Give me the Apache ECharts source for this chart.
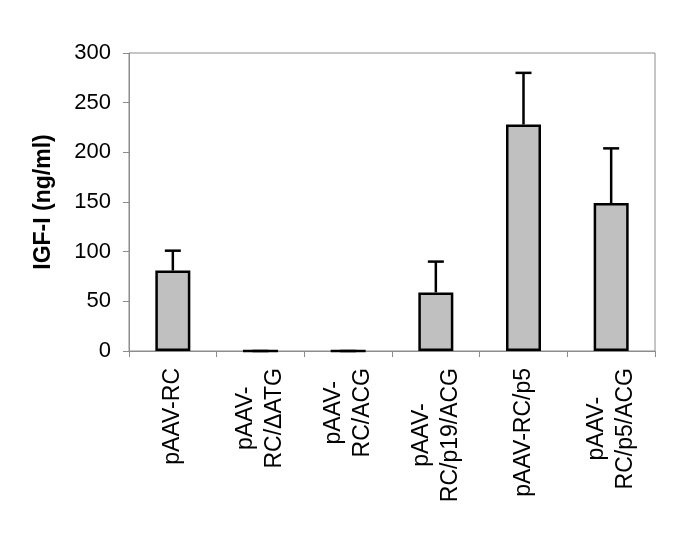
<!DOCTYPE html>
<html>
<head>
<meta charset="utf-8">
<script src="https://cdn.jsdelivr.net/npm/echarts@6/dist/echarts.min.js"></script>
<style>
  html, body { margin: 0; padding: 0; background: #fff; }
  #chart { width: 685px; height: 544px; }
</style>
</head>
<body>
<div id="chart"></div>
<script>
// constructs on the x axis
const categories = ['pAAV-RC', 'pAAV-\nRC/ΔATG', 'pAAV-\nRC/ACG', 'pAAV-\nRC/p19/ACG', 'pAAV-RC/p5', 'pAAV-\nRC/p5/ACG']
// IGF-I mean and error (ng/ml)
const means = [81, 0, 0, 59, 228, 149]
const errors = [20, 0, 0, 31, 52, 55]
const yTicks = { min: 0, max: 300, interval: 50 }

const font = 'Liberation Sans, Arial, sans-serif'
const chart = echarts.init(document.getElementById('chart'))

const errData = means.map((m, i) => [i, m, m + errors[i]])

const option = {
  animation: false,
  grid: {
    left: 129, top: 53, right: 30, bottom: 193,
    show: true, borderColor: '#8c8c8c', borderWidth: 1
  },
  xAxis: {
    type: 'category',
    data: categories,
    axisLine: { lineStyle: { color: '#8c8c8c', width: 1 } },
    axisTick: { show: true, length: 6, lineStyle: { color: '#8c8c8c' } },
    axisLabel: {
      interval: 0,
      rotate: 90,
      margin: 17,
      fontFamily: font,
      fontSize: 23,
      color: '#000',
      lineHeight: 29,
      formatter: v => v.split('\n').map(s => '{c|' + s + '}').join('\n'),
      rich: { c: { align: 'center', fontFamily: font, fontSize: 23, color: '#000', lineHeight: 29 } }
    }
  },
  yAxis: {
    type: 'value',
    min: yTicks.min, max: yTicks.max, interval: yTicks.interval,
    name: 'IGF-I (ng/ml)',
    nameLocation: 'middle',
    nameGap: 74,
    nameTextStyle: { fontFamily: font, fontSize: 23, fontWeight: 'bold', color: '#000' },
    splitLine: { show: false },
    axisLine: { show: true, lineStyle: { color: '#8c8c8c', width: 1 } },
    axisTick: { show: true, length: 6, lineStyle: { color: '#8c8c8c' } },
    axisLabel: { margin: 18, fontFamily: font, fontSize: 22, color: '#000' }
  },
  series: [
    {
      type: 'bar',
      data: means,
      barWidth: 35,
      itemStyle: { color: '#c0c0c0', borderColor: '#000', borderWidth: 2.5 }
    },
    {
      type: 'custom',
      data: errData,
      z: 10,
      renderItem: (params, api) => {
        const base = api.coord([api.value(0), api.value(1)])
        const top = api.coord([api.value(0), api.value(2)])
        const style = { stroke: '#000', lineWidth: 2.5 }
        return {
          type: 'group',
          children: [
            { type: 'line', shape: { x1: top[0], y1: base[1], x2: top[0], y2: top[1] }, style },
            { type: 'line', shape: { x1: top[0] - 8, y1: top[1], x2: top[0] + 8, y2: top[1] }, style }
          ]
        }
      }
    }
  ]
}
chart.setOption(option)
</script>
</body>
</html>
